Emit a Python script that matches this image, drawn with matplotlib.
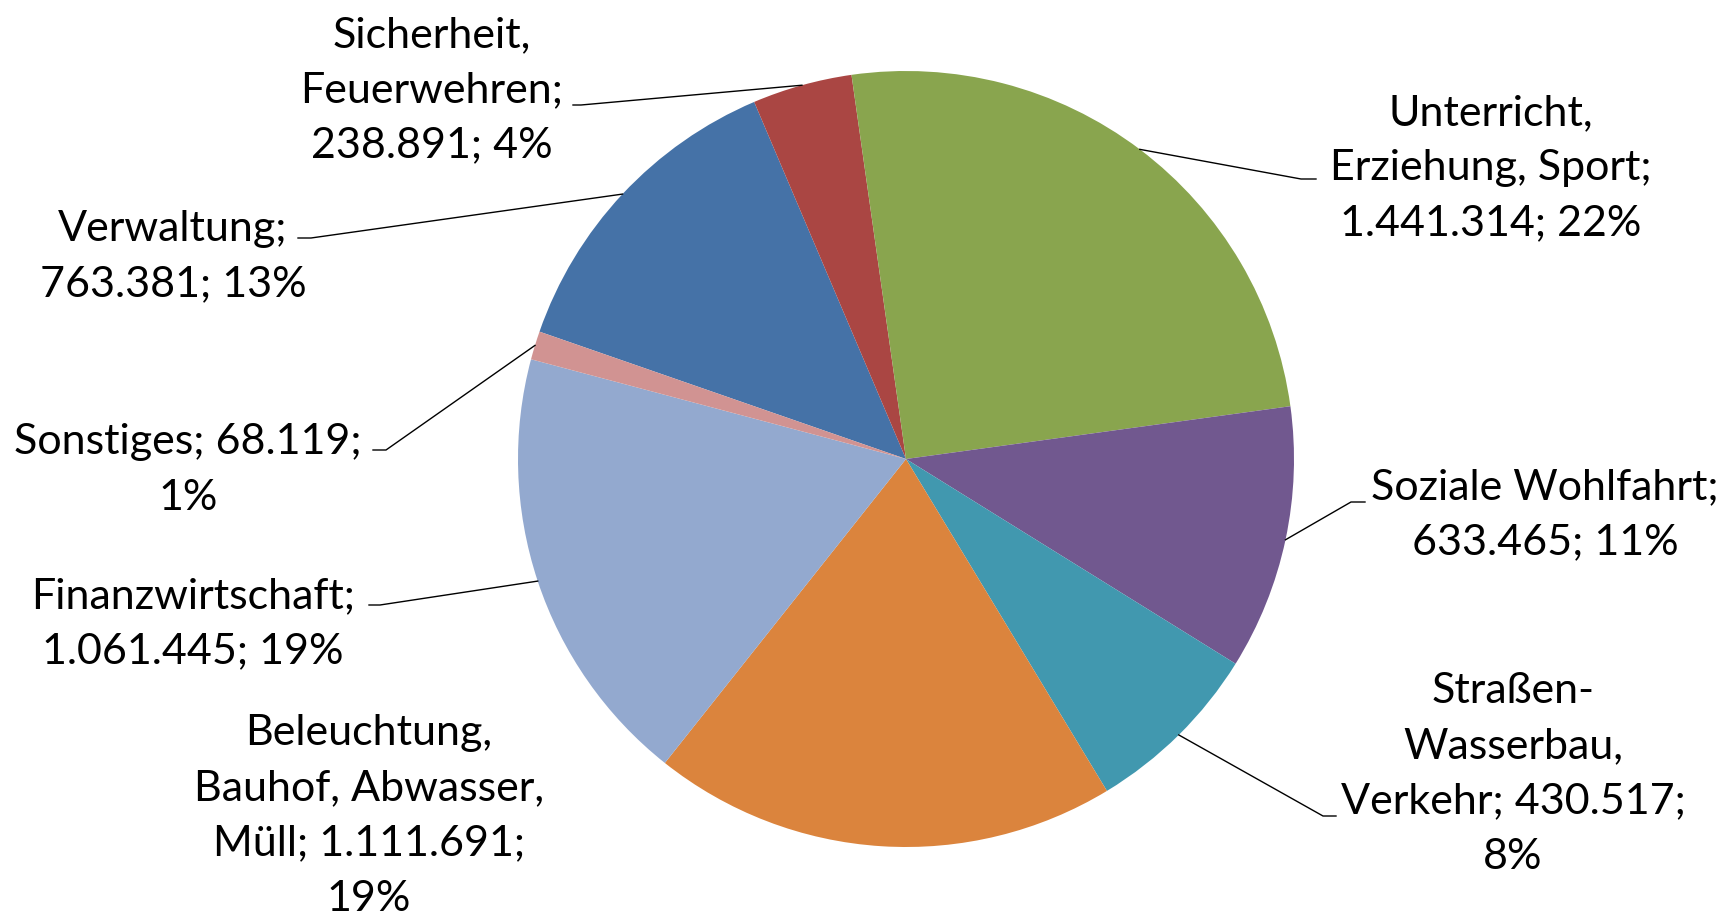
import matplotlib.pyplot as plt
import numpy as np

# data in Excel order (clockwise, first slice = Verwaltung)
categories = ['Verwaltung', 'Sicherheit, Feuerwehren', 'Unterricht, Erziehung, Sport',
              'Soziale Wohlfahrt', 'Straßen- Wasserbau, Verkehr',
              'Beleuchtung, Bauhof, Abwasser, Müll', 'Finanzwirtschaft', 'Sonstiges']
values = [763381, 238891, 1441314, 633465, 430517, 1111691, 1061445, 68119]
label_texts = [
    'Verwaltung;\n763.381; 13%',
    'Sicherheit,\nFeuerwehren;\n238.891; 4%',
    'Unterricht,\nErziehung, Sport;\n1.441.314; 22%',
    'Soziale Wohlfahrt;\n633.465; 11%',
    'Straßen-\nWasserbau,\nVerkehr; 430.517;\n8%',
    'Beleuchtung,\nBauhof, Abwasser,\nMüll; 1.111.691;\n19%',
    'Finanzwirtschaft;\n1.061.445; 19%',
    'Sonstiges; 68.119;\n1%',
]
colors = ['#4572A7', '#AA4643', '#89A54E', '#71588F', '#4198AF', '#DB843D', '#93A9CF', '#D19392']

# layout (pixel coords, y measured from the top of the image)
W, H = 1729, 921
cx, cy, R = 906, H - 459, 388
label_pos = [(173, 257), (432, 90), (1491, 168), (1545, 515),
             (1513, 774), (369, 816), (193, 624), (188, 470)]
elbows = [((311, 238), (298, 238)), ((581, 105), (573, 105)), ((1301, 179), (1316, 179)),
          ((1351, 502), (1365, 502)), ((1323, 816), (1336, 816)), None,
          ((380, 605), (369, 605)), ((386, 450), (373, 450))]

plt.rcParams['font.family'] = ['Lato', 'DejaVu Sans']

fig = plt.figure(figsize=(W / 100, H / 100), dpi=100)
ax = fig.add_axes([0, 0, 1, 1])

wedges, _ = ax.pie(values, colors=colors, startangle=160.84, counterclock=False,
                   center=(cx, cy), radius=R, wedgeprops=dict(linewidth=0))

for w, txt, pos, elb in zip(wedges, label_texts, label_pos, elbows):
    ax.text(pos[0], H - pos[1], txt, ha='center', va='center', fontsize=31,
            linespacing=1.55, color='black')
    if elb is None:
        continue
    mid = np.deg2rad((w.theta1 + w.theta2) / 2)
    x0, y0 = cx + R * np.cos(mid), cy + R * np.sin(mid)
    (ex, ey), (tx, ty) = elb
    ax.plot([x0, ex, tx], [y0, H - ey, H - ty], color='black', lw=1.0,
            solid_joinstyle='miter')

ax.set_xlim(0, W)
ax.set_ylim(0, H)
ax.set_aspect('equal')
ax.axis('off')

fig.savefig('out.png', dpi=100, facecolor='white')
